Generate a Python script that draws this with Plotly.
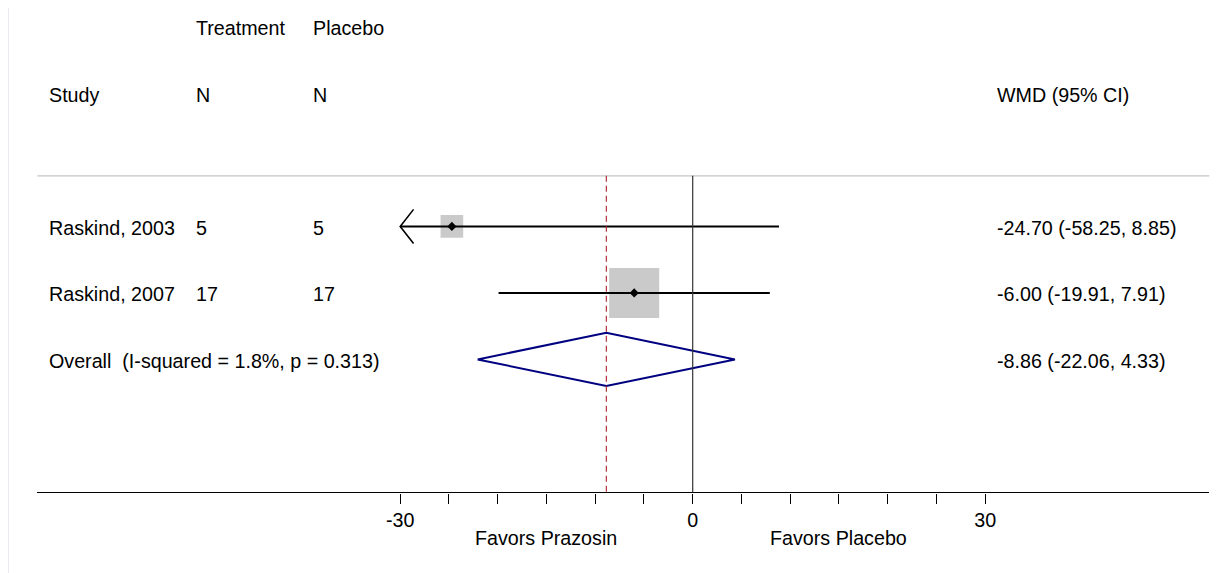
import plotly.graph_objects as go

# ---------------- data ----------------
studies = ["Raskind, 2003", "Raskind, 2007"]
n_treatment = [5, 17]
n_placebo = [5, 17]
wmd = [-24.70, -6.00]
ci_low = [-58.25, -19.91]
ci_high = [8.85, 7.91]
weights = [17.0, 83.0]          # % weight (box area)

overall_wmd = -8.86
overall_low = -22.06
overall_high = 4.33
overall_label = "Overall\u00a0 (I-squared = 1.8%, p = 0.313)"

tick_labels = [-30, 0, 30]
minor_step = 5
favors_left = "Favors Prazosin"
favors_right = "Favors Placebo"

header_top = ["Treatment", "Placebo"]
header_bottom = ["Study", "N", "N", "WMD (95% CI)"]

# ---------------- layout constants ----------------
W, H = 1225, 573
PAGE = 8  # browser body margin
FONT = "Liberation Sans, Arial, Helvetica, sans-serif"
FS = 19.7
px_per_unit = 9.75
x0_px, x1_px = 37.3 - PAGE, 1209.3 - PAGE
zero_px = 692.7 - PAGE
xr = [(x0_px - zero_px) / px_per_unit, (x1_px - zero_px) / px_per_unit]
row0_px, row_h = 226.4 - PAGE, 66.5
yr = [(H - row0_px) / row_h, (0 - row0_px) / row_h]
axis_row = 4.0
top_rule_row = -0.76
clip_min = min(tick_labels)

col_x = {"study": -66.2, "nt": -51.1, "np": -39.1, "wmd": 31.0}

fig = go.Figure()

# CI lines
xs, ys = [], []
arrows_x, arrows_y = [], []
for i, (lo, hi) in enumerate(zip(ci_low, ci_high)):
    xs += [max(lo, clip_min), hi, None]
    ys += [i, i, None]
    if lo < clip_min:
        arrows_x += [clip_min + 1.37, clip_min, clip_min + 1.37, None]
        arrows_y += [i - 0.256, i, i + 0.256, None]

# boxes
fig.add_trace(go.Scatter(
    x=wmd, y=list(range(len(studies))), mode="markers",
    marker=dict(symbol="square", color="#b4b4b4",
                size=[5.49 * w ** 0.5 for w in weights], line=dict(width=0)),
    hoverinfo="skip", showlegend=False))

fig.add_trace(go.Scatter(x=xs, y=ys, mode="lines",
                         line=dict(color="black", width=2),
                         hoverinfo="skip", showlegend=False))
if arrows_x:
    fig.add_trace(go.Scatter(x=arrows_x, y=arrows_y, mode="lines",
                             line=dict(color="black", width=1.6),
                             hoverinfo="skip", showlegend=False))

# point estimates
fig.add_trace(go.Scatter(
    x=wmd, y=list(range(len(studies))), mode="markers",
    marker=dict(symbol="diamond", color="black", size=7),
    hoverinfo="skip", showlegend=False))

# overall diamond
orow = len(studies)
fig.add_trace(go.Scatter(
    x=[overall_low, overall_wmd, overall_high, overall_wmd, overall_low],
    y=[orow, orow - 0.4, orow, orow + 0.4, orow],
    mode="lines", line=dict(color="#000080", width=2),
    hoverinfo="skip", showlegend=False))

shapes = []
# top rule
shapes.append(dict(type="line", xref="x domain", yref="y", x0=0, x1=1,
                   y0=top_rule_row, y1=top_rule_row,
                   line=dict(color="#c4c4c4", width=1.4)))
# zero line
shapes.append(dict(type="line", xref="x", yref="y", x0=0, x1=0,
                   y0=top_rule_row, y1=axis_row,
                   line=dict(color="#333333", width=1.2)))
# overall dashed line
shapes.append(dict(type="line", xref="x", yref="y", x0=overall_wmd, x1=overall_wmd,
                   y0=top_rule_row, y1=axis_row,
                   line=dict(color="#a8202a", width=1.1, dash="6px,4px")))
# faint page border
shapes.append(dict(type="line", xref="paper", yref="paper", x0=0, x1=0,
                   y0=0, y1=1, line=dict(color="#e8ebf0", width=2)))

ann = []
def txt(x, y, s, anchor="left", yshift=-1.5):
    ann.append(dict(x=x, y=y, xref="x", yref="y", text=s, showarrow=False,
                    xanchor=anchor, yanchor="middle", yshift=yshift,
                    font=dict(family=FONT, size=FS, color="black")))

txt(col_x["nt"], -3, header_top[0])
txt(col_x["np"], -3, header_top[1])
for key, s in zip(["study", "nt", "np", "wmd"], header_bottom):
    txt(col_x[key], -2, s)
for i, s in enumerate(studies):
    txt(col_x["study"], i, s)
    txt(col_x["nt"], i, str(n_treatment[i]))
    txt(col_x["np"], i, str(n_placebo[i]))
    txt(col_x["wmd"], i, f"{wmd[i]:.2f} ({ci_low[i]:.2f}, {ci_high[i]:.2f})")
txt(col_x["study"], orow, overall_label)
txt(col_x["wmd"], orow, f"{overall_wmd:.2f} ({overall_low:.2f}, {overall_high:.2f})")
txt(-15, 4.69, favors_left, "center", 0)
txt(15, 4.69, favors_right, "center", 0)

tickvals = list(range(min(tick_labels), max(tick_labels) + 1, minor_step))
ticktext = [str(v) if v in tick_labels else "" for v in tickvals]

fig.update_layout(
    width=W, height=H, margin=dict(l=0, r=0, t=0, b=0),
    paper_bgcolor="white", plot_bgcolor="white",
    shapes=shapes, annotations=ann,
    font=dict(family=FONT, size=FS, color="black"),
    xaxis=dict(domain=[x0_px / W, x1_px / W], range=xr, anchor="free",
               position=(H - (row0_px + axis_row * row_h)) / H,
               showline=True, linecolor="black", linewidth=1.4,
               ticks="outside", ticklen=10, tickwidth=1.3, tickcolor="black",
               tickvals=tickvals, ticktext=ticktext, showgrid=False,
               zeroline=False, tickfont=dict(family=FONT, size=FS, color="black")),
    yaxis=dict(range=yr, visible=False, showgrid=False, zeroline=False),
)

fig.write_html("out.html")
